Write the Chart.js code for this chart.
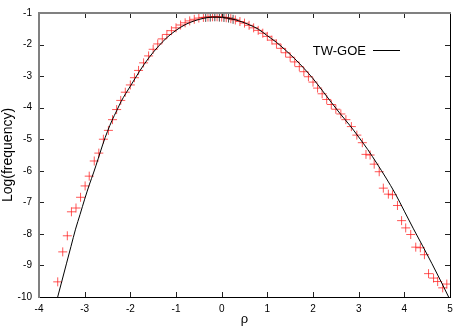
<!DOCTYPE html>
<html>
<head>
<meta charset="utf-8">
<script src="https://cdn.jsdelivr.net/npm/chart.js@4"></script>
<style>
  html, body { margin: 0; padding: 0; background: #fff; }
  #wrap { width: 467px; height: 327px; }
</style>
</head>
<body>
<div id="wrap"><canvas id="chart" width="467" height="327"></canvas></div>
<script>
// TW-GOE curve
const curveX = [-3.60, -3.50, -3.40, -3.30, -3.20, -3.10, -3.00, -2.90, -2.80, -2.70, -2.60, -2.50, -2.40, -2.30, -2.20, -2.10, -2.00,
  -1.80, -1.60, -1.40, -1.20, -1.00, -0.80, -0.60, -0.40, -0.20, 0.00, 0.20, 0.40, 0.60, 0.80, 1.00, 1.20, 1.40, 1.60, 1.80,
  2.00, 2.20, 2.40, 2.60, 2.80, 3.00, 3.20, 3.40, 3.60, 3.80, 4.00, 4.20, 4.40, 4.60, 4.80, 4.97];
const curveY = [-10.05, -9.50, -8.95, -8.40, -7.85, -7.38, -6.90, -6.45, -6.04, -5.60, -5.15, -4.75, -4.40, -4.10, -3.80, -3.55, -3.32,
  -2.85, -2.43, -2.08, -1.78, -1.55, -1.37, -1.25, -1.17, -1.13, -1.14, -1.18, -1.26, -1.37, -1.51, -1.72, -1.93, -2.18, -2.45, -2.75,
  -3.08, -3.45, -3.83, -4.20, -4.55, -4.93, -5.33, -5.77, -6.23, -6.72, -7.28, -7.84, -8.38, -8.93, -9.50, -10.0];

// red crosses
const redX = [-3.59, -3.48, -3.38, -3.29, -3.19, -3.09, -2.99, -2.90, -2.79, -2.69, -2.59, -2.48, -2.39, -2.30, -2.21, -2.11, -2.00,
  -1.91, -1.82, -1.71, -1.60, -1.50, -1.40, -1.30, -1.20, -1.10, -1.00, -0.90, -0.80, -0.70, -0.60, -0.50, -0.40, -0.30, -0.20,
  -0.10, 0.00, 0.10, 0.20, 0.30, 0.40, 0.50, 0.60, 0.70, 0.80, 0.90, 1.00, 1.10, 1.20, 1.30, 1.40, 1.50, 1.60, 1.70, 1.80, 1.90,
  2.00, 2.10, 2.20, 2.30, 2.40, 2.50, 2.61, 2.72, 2.84, 2.96, 3.08, 3.16, 3.25, 3.34, 3.45, 3.54, 3.65, 3.74, 3.85, 3.94, 4.03,
  4.14, 4.25, 4.35, 4.44, 4.53, 4.64, 4.73, 4.84, 4.93];
const redY = [-9.52, -8.57, -8.06, -7.30, -7.18, -6.84, -6.48, -6.17, -5.69, -5.44, -5.00, -4.72, -4.38, -4.06, -3.77, -3.51, -3.28,
  -3.05, -2.82, -2.58, -2.36, -2.15, -1.98, -1.82, -1.68, -1.56, -1.47, -1.38, -1.31, -1.25, -1.20, -1.16, -1.14, -1.13, -1.12,
  -1.12, -1.13, -1.15, -1.18, -1.22, -1.27, -1.32, -1.39, -1.47, -1.55, -1.64, -1.74, -1.86, -1.98, -2.12, -2.26, -2.40, -2.55,
  -2.70, -2.86, -3.02, -3.19, -3.38, -3.56, -3.74, -3.90, -4.05, -4.20, -4.38, -4.60, -4.87, -5.11, -5.48, -5.50, -5.79, -6.03,
  -6.55, -6.74, -6.76, -7.10, -7.58, -7.81, -8.02, -8.42, -8.44, -8.66, -9.26, -9.40, -9.51, -9.71, -9.59];

// black crosses (mostly hidden under the red ones)
const blackX = [-0.35, -0.25, -0.15, -0.05, 0.05, 0.15, 0.25];
const blackY = [-1.14, -1.13, -1.12, -1.13, -1.14, -1.16, -1.20];

const xTicks = [-4, -3, -2, -1, 0, 1, 2, 3, 4, 5];
const yTicks = [-10, -9, -8, -7, -6, -5, -4, -3, -2, -1];

const pts = (xs, ys) => xs.map((x, i) => ({ x: x, y: ys[i] }));

// gnuplot style frame: inward ticks on all sides + legend
const frame = {
  id: 'frame',
  afterDraw(chart) {
    const ctx = chart.ctx, a = chart.chartArea;
    const xs = chart.scales.x, ys = chart.scales.y;
    ctx.save();
    ctx.strokeStyle = '#222';
    ctx.lineWidth = 1;
    ctx.beginPath();
    xTicks.forEach(v => {
      const px = Math.round(xs.getPixelForValue(v)) + 0.5;
      ctx.moveTo(px, a.bottom); ctx.lineTo(px, a.bottom - 5);
      ctx.moveTo(px, a.top); ctx.lineTo(px, a.top + 5);
    });
    yTicks.forEach(v => {
      const py = Math.round(ys.getPixelForValue(v)) + 0.5;
      ctx.moveTo(a.left, py); ctx.lineTo(a.left + 5, py);
      ctx.moveTo(a.right, py); ctx.lineTo(a.right - 5, py);
    });
    ctx.stroke();

    // borders
    ctx.strokeStyle = '#000';
    ctx.beginPath();
    ctx.moveTo(a.right + 0.5, a.top); ctx.lineTo(a.right + 0.5, a.bottom + 1);
    ctx.moveTo(a.left, a.bottom + 0.5); ctx.lineTo(a.right + 1, a.bottom + 0.5);
    ctx.stroke();
    ctx.strokeStyle = '#808080';
    ctx.lineWidth = 2;
    ctx.beginPath();
    ctx.moveTo(a.left, a.top - 1); ctx.lineTo(a.left, a.bottom + 1);
    ctx.moveTo(a.left - 1, a.top); ctx.lineTo(a.right + 1, a.top);
    ctx.stroke();

    // legend
    ctx.fillStyle = '#000';
    ctx.font = '13px "Liberation Sans", Arial, sans-serif';
    ctx.textAlign = 'right';
    ctx.textBaseline = 'middle';
    ctx.fillText('TW-GOE', 366, 51);
    ctx.strokeStyle = '#000';
    ctx.lineWidth = 1;
    ctx.beginPath();
    ctx.moveTo(373, 50.5); ctx.lineTo(400, 50.5);
    ctx.stroke();
    ctx.restore();
  }
};

new Chart('chart', {
  type: 'scatter',
  data: {
    datasets: [
      {
        type: 'line',
        label: 'TW-GOE',
        data: pts(curveX, curveY),
        borderColor: '#000',
        borderWidth: 1,
        pointRadius: 0,
        fill: false,
        cubicInterpolationMode: 'monotone'
      },
      {
        label: 'red',
        data: pts(redX, redY),
        pointStyle: 'cross',
        pointRadius: 4.5,
        borderColor: 'rgba(255, 30, 30, 0.75)',
        backgroundColor: 'rgba(255, 30, 30, 0.75)',
        borderWidth: 1
      },
      {
        label: 'black',
        data: pts(blackX, blackY),
        pointStyle: 'cross',
        pointRadius: 4.5,
        borderColor: 'rgba(0, 0, 0, 0.7)',
        backgroundColor: 'rgba(0, 0, 0, 0.7)',
        borderWidth: 1
      }
    ]
  },
  options: {
    responsive: false,
    animation: false,
    devicePixelRatio: 1,
    layout: { padding: { left: 0, right: 17, top: 11, bottom: 0 } },
    plugins: {
      legend: { display: false },
      tooltip: { enabled: false }
    },
    scales: {
      x: {
        type: 'linear',
        min: -4,
        max: 5,
        afterBuildTicks: s => { s.ticks = xTicks.map(v => ({ value: v })); },
        afterFit: s => { s.height = 30; },
        grid: { display: false, drawTicks: false },
        border: { display: false },
        ticks: {
          padding: 6,
          color: '#000',
          font: { family: '"Liberation Sans", Arial, sans-serif', size: 10 }
        },
        title: {
          display: true,
          text: 'ρ',
          color: '#000',
          padding: { top: 0, bottom: 0 },
          font: { family: '"Liberation Sans", Arial, sans-serif', size: 13 }
        }
      },
      y: {
        type: 'linear',
        min: -10,
        max: -1,
        afterBuildTicks: s => { s.ticks = yTicks.map(v => ({ value: v })); },
        afterFit: s => { s.width = 39; },
        grid: { display: false, drawTicks: false },
        border: { display: false },
        ticks: {
          padding: 7,
          color: '#000',
          font: { family: '"Liberation Sans", Arial, sans-serif', size: 10 }
        },
        title: {
          display: true,
          text: 'Log(frequency)',
          color: '#000',
          padding: { top: 0, bottom: 0 },
          font: { family: '"Liberation Sans", Arial, sans-serif', size: 14 }
        }
      }
    }
  },
  plugins: [frame]
});
</script>
</body>
</html>
